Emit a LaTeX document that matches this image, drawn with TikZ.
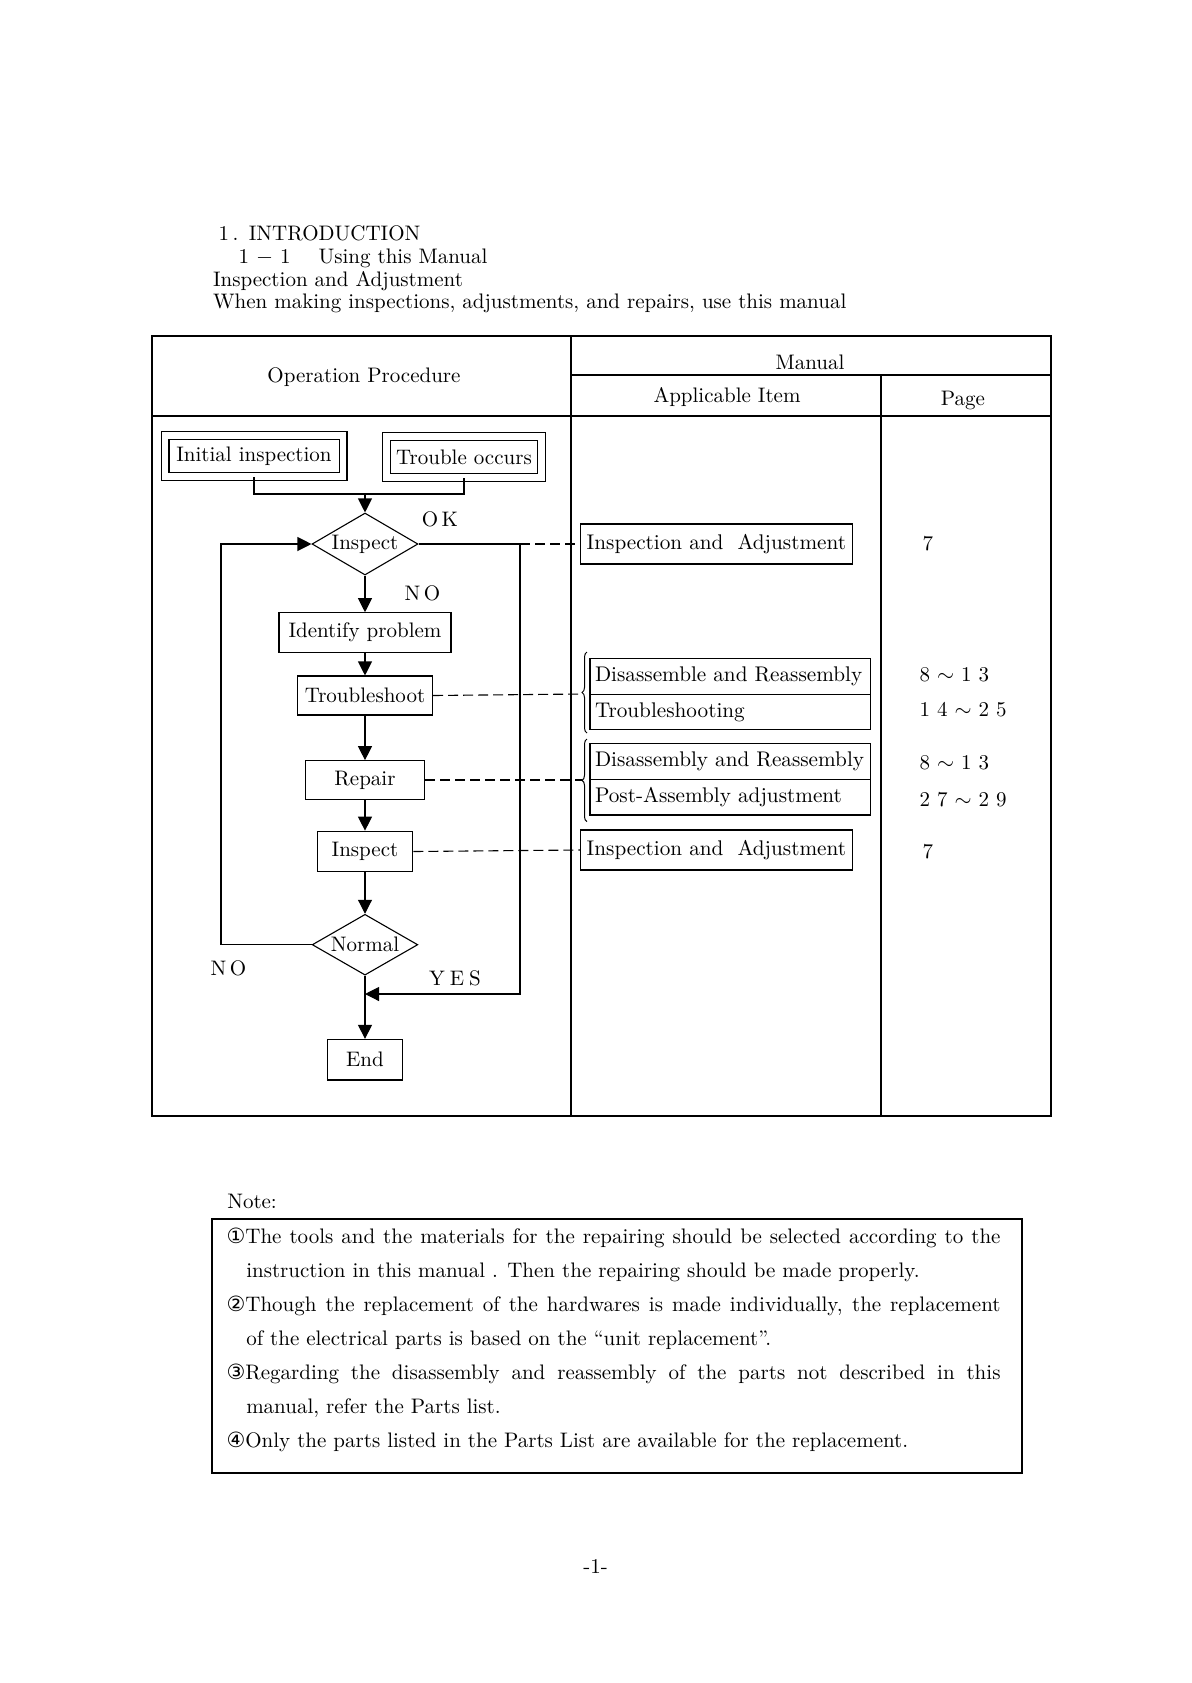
\documentclass[tikz,border=0pt]{standalone}
\usepackage{fontspec}
\newfontfamily\symf{DejaVu Sans}
\usetikzlibrary{arrows.meta,shapes.geometric,decorations.pathreplacing}

\begin{document}
\begin{tikzpicture}[x=0.5pt, y=-0.5pt, line width=0.55pt, font=\fontsize{10.5}{12.6}\selectfont]
	\tikzset{bx/.style={draw, rectangle, inner sep=0pt},
		dbx/.style={draw, double, double distance=3.4pt, inner sep=0pt, minimum height=20.25pt},
		dmd/.style={draw, diamond, aspect=1.7, inner sep=0pt},
		itm/.style={draw, rectangle, inner xsep=2.5pt, inner ysep=0pt, minimum width=140.35pt, minimum height=17.8pt, font=\fontsize{10.6}{12.6}\selectfont},
		ref/.style={draw, rectangle, inner sep=0pt, minimum width=135.65pt, minimum height=20pt, font=\fontsize{10.6}{12.6}\selectfont},
		txt/.style={anchor=west, inner sep=0pt, text height=7.3pt, text depth=2.2pt},
		arr/.style={-{Triangle[width=7pt, length=7pt]}},
		dsh/.style={dash pattern=on 5pt off 2.5pt},
		brc/.style={line width=0.5pt, decorate, decoration={brace, amplitude=2.5pt}}};

	\useasboundingbox (0,0) rectangle (1191,1683);

	\node[txt] (h1) at (218,235) {1\,.\enspace INTRODUCTION};
	\node[txt] (h2) at (238,258) {1 $-$ 1\quad\ Using this Manual};
	\node[txt] (h3) at (212.5,281) {Inspection and Adjustment};
	\node[txt] (h4) at (212.5,303.5) {When making inspections, adjustments, and repairs, use this manual};

	\draw (152,336) rectangle (1051,1116);
	\draw (152,416) -- (1051,416);
	\draw (571,336) -- (571,1116);
	\draw (571,375) -- (1051,375);
	\draw (881,375) -- (881,1116);

	\node (op) at (364,377) {Operation Procedure};
	\node (man) at (810,362) {Manual};
	\node (app) at (727,397) {Applicable Item};
	\node (pg) at (963,400) {Page};

	\node[dbx, minimum width=89pt] (init) at (254,456) {Initial inspection};
	\node[dbx, minimum width=77.25pt] (trbl) at (464,457) {Trouble occurs};
	\coordinate (jn) at (365,494);
	\node[dmd, minimum width=53pt, minimum height=31pt] (insp) at (365,544) {Inspect};
	\node[bx, minimum width=86pt, minimum height=19.75pt] (iden) at (365,632.5) {Identify problem};
	\node[bx, minimum width=67.5pt, minimum height=19.5pt] (shoot) at (365,695.5) {Troubleshoot};
	\node[bx, minimum width=59.5pt, minimum height=19.3pt] (rep) at (365,780) {Repair};
	\node[bx, minimum width=47.8pt, minimum height=20.3pt] (chk) at (365,851.5) {Inspect};
	\node[dmd, minimum width=52.8pt, minimum height=30.4pt] (norm) at (365,944.7) {Normal};
	\node[bx, minimum width=37.5pt, minimum height=20.3pt] (fin) at (365,1059.7) {End};

	\node (ok) at (440,519) {O\,K};
	\node (no1) at (422.5,593) {N\,O};
	\node (no2) at (228.5,968) {N\,O};
	\node (yes) at (455,978) {Y\hspace{2.5pt}E\hspace{2.5pt}S};

	\coordinate (nol) at (221,944.7);
	\coordinate (okr) at (520,544);
	\coordinate (yesr) at (520,994);
	\coordinate (yesj) at (365,994);

	\draw (init.south) |- (jn) -| (trbl.south);
	\draw[arr] (jn) to (insp.north);
	\draw[arr] (insp.south) to (iden.north);
	\draw[arr] (iden.south) to (shoot.north);
	\draw[arr] (shoot.south) to (rep.north);
	\draw[arr] (rep.south) to (chk.north);
	\draw[arr] (chk.south) to (norm.north);
	\draw[arr] (norm.south) to (fin.north);

	\draw[arr] (norm.west) to (nol) |- (insp.west);
	\draw[arr] (insp.east) to (okr) to (yesr) to (yesj);

	\node[ref] (ia1) at (716.4,544) {Inspection and\enspace\,Adjustment};
	\node[itm] (dis1) at (730.35,676.3) {\makebox[135.35pt][l]{Disassemble and Reassembly}};
	\node[itm] (ts) at (730.35,712.1) {\makebox[135.35pt][l]{Troubleshooting}};
	\node[itm] (dis2) at (730.35,761.6) {\makebox[135.35pt][l]{Disassembly and Reassembly}};
	\node[itm] (pa) at (730.35,797.2) {\makebox[135.35pt][l]{Post-Assembly adjustment}};
	\node[ref] (ia2) at (716.4,850) {Inspection and\enspace\,Adjustment};

	\draw[brc] (587,733) -- (587,652);
	\coordinate (b1) at (582,694);
	\draw[brc] (587,821.7) -- (587,739);
	\coordinate (b2) at (582,780);

	\draw[dsh] (okr) to (ia1.west);
	\draw[dsh] (shoot.east) to (b1);
	\draw[dsh] (rep.east) to (b2);
	\draw[dsh] (chk.east) to (ia2.west);

	\node[txt] (p1) at (922,545) {7};
	\node[txt] (p2) at (919,676.7) {8~$\sim$~1~3};
	\node[txt] (p3) at (919,711.7) {1~4~$\sim$~2~5};
	\node[txt] (p4) at (919,764) {8~$\sim$~1~3};
	\node[txt] (p5) at (919,801.7) {2~7~$\sim$~2~9};
	\node[txt] (p6) at (922,853.3) {7};

	\node[txt] (note) at (226.7,1203) {Note:};
	\draw (212,1219) rectangle (1022,1473);
	\node[txt] (n1) at (226,1238) {\makebox[387pt][s]{{\symf ①}The tools and the materials for the repairing should be selected according to the}};
	\node[txt] (n2) at (245.7,1272) {instruction in this manual . Then the repairing should be made properly.};
	\node[txt] (n3) at (226,1306) {\makebox[387pt][s]{{\symf ②}Though the replacement of the hardwares is made individually, the replacement}};
	\node[txt] (n4) at (245.7,1340) {of the electrical parts is based on the ``unit replacement''.};
	\node[txt] (n5) at (226,1374) {\makebox[387pt][s]{{\symf ③}Regarding the disassembly and reassembly of the parts not described in this}};
	\node[txt] (n6) at (245.7,1408) {manual, refer the Parts list.};
	\node[txt] (n7) at (226,1442) {{\symf ④}Only the parts listed in the Parts List are available for the replacement.};

	\node (pgno) at (595.5,1566.6) {-1-};
\end{tikzpicture}
\end{document}
